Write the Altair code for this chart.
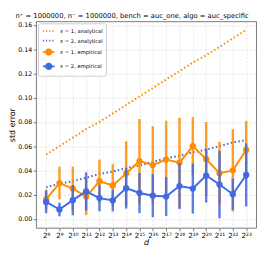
import json
import altair as alt
import pandas as pd

# ---------------- data ----------------
d_values = [256, 512, 1024, 2048, 4096, 8192, 16384, 32768, 65536, 131072,
            262144, 524288, 1048576, 2097152, 4194304, 8388608]
tick_labels = ["2⁸", "2⁹", "2¹⁰", "2¹¹", "2¹²", "2¹³", "2¹⁴", "2¹⁵",
               "2¹⁶", "2¹⁷", "2¹⁸", "2¹⁹", "2²⁰", "2²¹", "2²²", "2²³"]
y_ticks = [0.00, 0.02, 0.04, 0.06, 0.08, 0.10, 0.12, 0.14, 0.16]

series_names = ["ε = 1, analytical", "ε = 2, analytical",
                "ε = 1, empirical", "ε = 2, empirical"]
series_colors = ["#ff8c00", "#4169e1", "#ff8c00", "#4169e1"]

analytical_eps1 = [0.053, 0.060, 0.067, 0.074, 0.080, 0.087, 0.094, 0.101,
                   0.108, 0.115, 0.122, 0.129, 0.135, 0.142, 0.149, 0.156]
analytical_eps2 = [0.026, 0.029, 0.031, 0.034, 0.037, 0.039, 0.042, 0.044,
                   0.047, 0.050, 0.052, 0.055, 0.057, 0.060, 0.063, 0.065]

empirical_eps1_mean = [0.0160, 0.0295, 0.0250, 0.0184, 0.0310, 0.0275, 0.0374, 0.0476,
                       0.0444, 0.0489, 0.0464, 0.0600, 0.0493, 0.0377, 0.0400, 0.0568]
empirical_eps1_std = [0.0083, 0.0135, 0.0180, 0.0154, 0.0178, 0.0175, 0.0265, 0.0348,
                      0.0320, 0.0320, 0.0370, 0.0240, 0.0305, 0.0260, 0.0340, 0.0240]
empirical_eps2_mean = [0.0139, 0.0077, 0.0154, 0.0226, 0.0171, 0.0151, 0.0253, 0.0213,
                       0.0191, 0.0184, 0.0270, 0.0250, 0.0357, 0.0283, 0.0203, 0.0362]
empirical_eps2_std = [0.0093, 0.0056, 0.0125, 0.0157, 0.0110, 0.0090, 0.0168, 0.0166,
                      0.0178, 0.0160, 0.0190, 0.0206, 0.0223, 0.0278, 0.0130, 0.0260]

title_text = "n⁺ = 1000000, n⁻ = 1000000, bench = auc_one, algo = auc_specific"

# ---------------- tables ----------------
analytical_df = pd.concat([
    pd.DataFrame({"d": d_values, "value": analytical_eps1, "series": series_names[0]}),
    pd.DataFrame({"d": d_values, "value": analytical_eps2, "series": series_names[1]}),
])


def emp_table(means, stds, name):
    return pd.DataFrame({
        "d": d_values,
        "value": means,
        "lo": [m - s for m, s in zip(means, stds)],
        "hi": [m + s for m, s in zip(means, stds)],
        "series": name,
    })


emp1 = emp_table(empirical_eps1_mean, empirical_eps1_std, series_names[2])
emp2 = emp_table(empirical_eps2_mean, empirical_eps2_std, series_names[3])

# ---------------- encodings ----------------
is_an = "indexof(datum.label, 'analytical') >= 0"
legend = alt.Legend(
    title=None,
    orient="top-left",
    offset=2,
    padding=3,
    fillColor="white",
    strokeColor="#cccccc",
    cornerRadius=2,
    labelFont="DejaVu Sans",
    labelFontSize=5.4,
    labelColor="black",
    labelOffset=7,
    symbolSize=64,
    symbolOffset=3,
    rowPadding=0.8,
    symbolStrokeWidth=1.8,
    symbolOpacity=1,
    symbolType=alt.ExprRef(expr=f"{is_an} ? 'M-1.5,0L1.5,0' : "
                                "'M-1.5,0L1.5,0M0.7,0A0.7,0.7,0,1,1,-0.7,0A0.7,0.7,0,1,1,0.7,0Z'"),
    symbolDash=alt.ExprRef(expr=f"{is_an} ? [1.2,2] : [1,0]"),
    symbolFillColor=alt.ExprRef(expr=f"{is_an} ? 'transparent' : scale('color', datum.value)"),
    symbolStrokeColor=alt.ExprRef(expr="scale('color', datum.value)"),
)

color = alt.Color("series:N",
                  scale=alt.Scale(domain=series_names, range=series_colors),
                  legend=legend)

label_expr = ("%s[round(log(datum.value) / LN2) - 8]"
              % json.dumps(tick_labels, ensure_ascii=False))

x = alt.X("d:Q",
          scale=alt.Scale(type="log", base=2, domain=[2 ** 7.25, 2 ** 23.75], nice=False),
          axis=alt.Axis(values=d_values, labelExpr=label_expr, title="d",
                        titleFontStyle="italic", labelPadding=1, titlePadding=0,
                        labelFontSize=7.4,
                        labelFlush=False, labelOverlap=False))

y_axis = alt.Axis(values=y_ticks, format=".2f", title="std error",
                  labelPadding=1.5, titlePadding=1)
y_scale = alt.Scale(domain=[-0.0075, 0.163], nice=False, zero=False)

analytical = alt.Chart(analytical_df).mark_line(
    strokeDash=[1.6, 2.4], strokeWidth=2, strokeCap="butt"
).encode(x=x, y=alt.Y("value:Q", scale=y_scale, axis=y_axis), color=color,
         detail="series:N")


def emp_layers(df):
    base = alt.Chart(df)
    bars = base.mark_rule(strokeWidth=2.5, opacity=0.85).encode(
        x=x, y=alt.Y("lo:Q", scale=y_scale, axis=y_axis), y2="hi:Q", color=color)
    line = base.mark_line(strokeWidth=2).encode(
        x=x, y=alt.Y("value:Q", scale=y_scale, axis=y_axis), color=color)
    pts = base.mark_circle(size=42, opacity=1).encode(
        x=x, y=alt.Y("value:Q", scale=y_scale, axis=y_axis), color=color)
    return [bars, line, pts]


chart = alt.layer(
    analytical, *emp_layers(emp1), *emp_layers(emp2)
).properties(
    width=227,
    height=213,
    autosize=alt.AutoSizeParams(type="none"),
    padding={"left": 29, "top": 10, "right": 6, "bottom": 19},
    title=alt.TitleParams(text=title_text, fontSize=7.0, font="DejaVu Sans",
                          fontWeight="normal", anchor="middle", frame="bounds",
                          offset=2, color="black"),
).configure_view(
    stroke="#555555", strokeWidth=0.8
).configure_axis(
    grid=True, gridColor="#e2e2e2", gridDash=[2.5, 1.5], gridWidth=0.8,
    domain=False, tickColor="#555555", tickSize=3, tickWidth=0.8,
    labelFont="DejaVu Sans", labelFontSize=6.5, labelColor="black",
    titleFont="DejaVu Sans", titleFontSize=8.2, titleFontWeight="normal",
    titleColor="black",
)

chart.save("out.html", embed_options={"renderer": "svg", "actions": False})
